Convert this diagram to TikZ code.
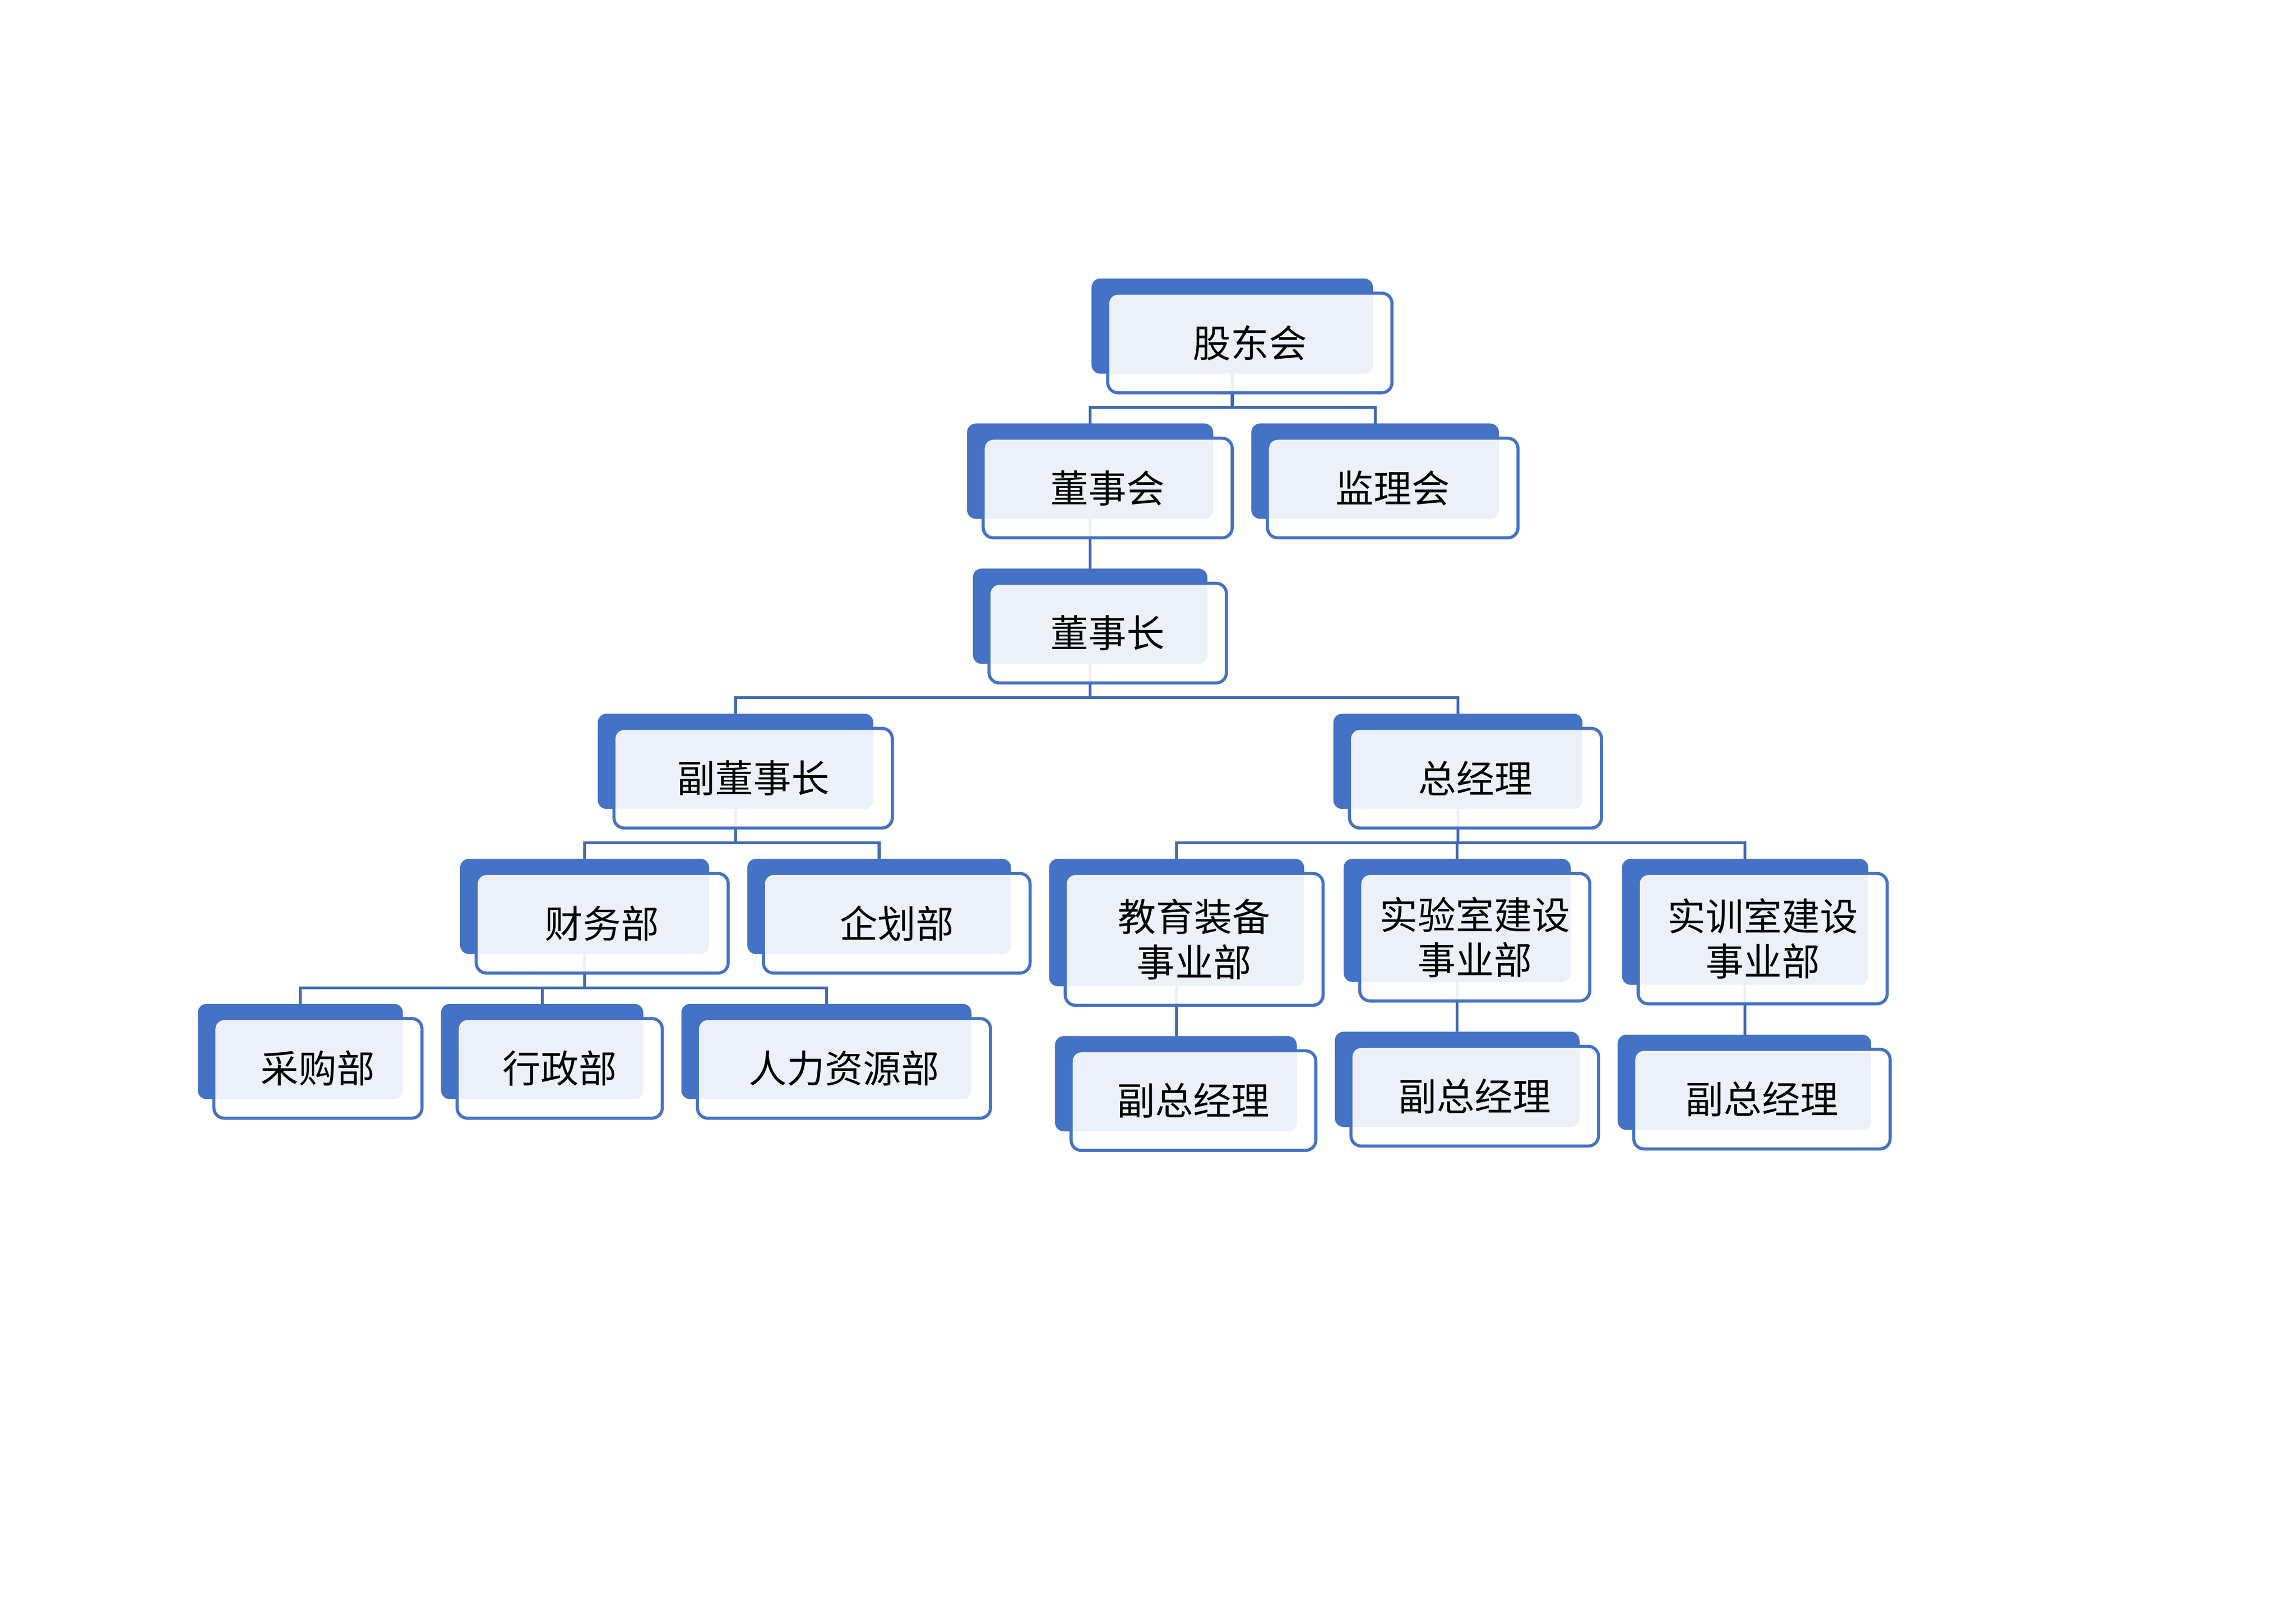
\documentclass[tikz,border=0pt]{standalone}
\usepackage{fontspec}
\setmainfont{Noto Sans CJK SC}
\usetikzlibrary{backgrounds}
\definecolor{orgblue}{HTML}{4472C4}
\definecolor{linkblue}{HTML}{3F69B3}
\tikzset{
  backbox/.style={fill=orgblue, rounded corners=0.06cm, inner sep=0pt, outer sep=0pt, anchor=north west},
  frontbox/.style={draw=orgblue, line width=0.6pt, fill=white, fill opacity=0.9, text opacity=1, rounded corners=0.07cm, inner sep=0pt, outer sep=0pt, anchor=north west, font=\fontsize{7.4}{8.8}\selectfont, align=center},
  link/.style={draw=linkblue, line width=0.55pt},
}
\newcommand\orgbox[6]{%
  \node[backbox, minimum width=#4*0.01cm, minimum height=#5*0.01cm] (#1) at (#2,#3) {};
  \node[frontbox, minimum width=(#4+2)*0.01cm, minimum height=(#5+3)*0.01cm] (#1f) at (#2+11,#3+10) {#6};
}
\begin{document}
\begin{tikzpicture}[x=0.01cm, y=-0.01cm]
\useasboundingbox (0,0) rectangle (1567,1108);
\orgbox{gd}{745}{190}{192}{65}{股东会}
\orgbox{dsh}{660}{289}{168}{65}{董事会}
\orgbox{jlh}{854}{289}{169}{65}{监理会}
\orgbox{dsz}{664}{388}{160}{65}{董事长}
\orgbox{fdsz}{408}{487}{188}{65}{副董事长}
\orgbox{zjl}{910}{487}{170}{65}{总经理}
\orgbox{cwb}{314}{586}{170}{65}{财务部}
\orgbox{qhb}{510}{586}{180}{65}{企划部}
\orgbox{jyb}{716}{586}{174}{87}{教育装备\\事业部}
\orgbox{syb}{917}{586}{155}{84}{实验室建设\\事业部}
\orgbox{sxb}{1107}{586}{168}{86}{实训室建设\\事业部}
\orgbox{cgb}{135}{685}{140}{65}{采购部}
\orgbox{xzb}{301}{685}{138}{65}{行政部}
\orgbox{rlb}{465}{685}{198}{65}{人力资源部}
\orgbox{fza}{720}{707}{165}{65}{副总经理}
\orgbox{fzb}{911}{704}{167}{65}{副总经理}
\orgbox{fzc}{1104}{706}{173}{65}{副总经理}
\begin{scope}[on background layer]
\draw[link] (gd.south) -- ++(0,23) -| (dsh.north);
\draw[link] (gd.south) -- ++(0,23) -| (jlh.north);
\draw[link] (dsh.south) -- (dsh.south |- dsz.north);
\draw[link] (dsz.south) -- ++(0,23) -| (fdsz.north);
\draw[link] (dsz.south) -- ++(0,23) -| (zjl.north);
\draw[link] (fdsz.south) -- ++(0,23) -| (cwb.north);
\draw[link] (fdsz.south) -- ++(0,23) -| (qhb.north);
\draw[link] (zjl.south) -- ++(0,23) -| (jyb.north);
\draw[link] (zjl.south) -- ++(0,23) -| (syb.north);
\draw[link] (zjl.south) -- ++(0,23) -| (sxb.north);
\draw[link] (cwb.south) -- ++(0,23) -| (cgb.north);
\draw[link] (cwb.south) -- ++(0,23) -| (xzb.north);
\draw[link] (cwb.south) -- ++(0,23) -| (rlb.north);
\draw[link] (jyb.south) -- (jyb.south |- fza.north);
\draw[link] (syb.south) -- (syb.south |- fzb.north);
\draw[link] (sxb.south) -- (sxb.south |- fzc.north);
\end{scope}
\end{tikzpicture}
\end{document}
